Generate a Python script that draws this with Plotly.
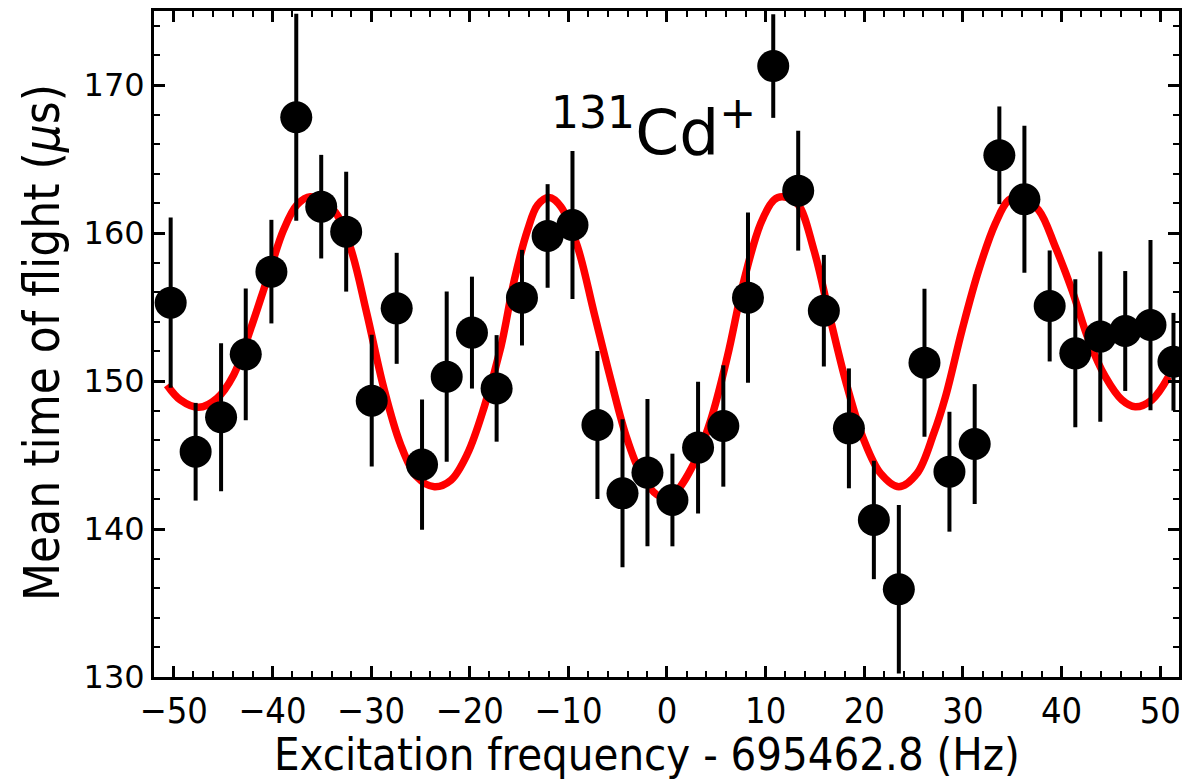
import plotly.graph_objects as go

# Measured mean time of flight versus excitation frequency offset
freq_offset_hz = [-50.31, -47.78, -45.20, -42.70, -40.10, -37.58, -35.05, -32.52, -29.93, -27.40,
                  -24.83, -22.33, -19.77, -17.27, -14.70, -12.10, -9.58, -7.05, -4.51, -1.98,
                  0.55, 3.15, 5.71, 8.21, 10.77, 13.30, 15.90, 18.44, 20.97, 23.50,
                  26.10, 28.63, 31.19, 33.69, 36.23, 38.79, 41.39, 43.92, 46.45, 49.01, 51.34]
mean_tof_us = [155.29, 145.22, 147.55, 151.80, 157.39, 167.82, 161.78, 160.09, 148.67, 154.91,
               144.35, 150.29, 153.27, 149.50, 155.63, 159.80, 160.54, 147.03, 142.41, 143.81,
               141.96, 145.50, 146.96, 155.63, 171.28, 162.86, 154.75, 146.80, 140.61, 135.93,
               151.24, 143.87, 145.74, 165.25, 162.28, 155.07, 151.87, 153.00, 153.38, 153.78, 151.30]
tof_err_us = [5.75, 3.30, 5.00, 4.45, 3.50, 7.00, 3.50, 4.05, 4.45, 3.75,
              4.40, 5.75, 3.78, 3.60, 3.23, 3.50, 5.00, 5.00, 5.00, 4.98,
              3.13, 4.45, 4.10, 5.75, 3.50, 4.05, 3.77, 4.05, 4.00, 5.70,
              5.00, 4.05, 4.05, 3.30, 4.97, 3.75, 5.00, 5.75, 4.05, 5.75, 3.30]

# Fitted Ramsey resonance curve (sampled)
fit_x = [-50.68, -49.33, -47.47, -45.62, -43.93, -42.24, -40.56, -38.87, -37.52, -36.17,
         -33.80, -32.12, -30.43, -28.74, -27.05, -25.37, -23.58, -21.89, -20.21, -18.52,
         -16.83, -15.48, -14.13, -13.12, -11.94, -10.75, -9.07, -7.38, -5.69, -4.01,
         -2.32, -0.63, 0.72, 2.74, 4.43, 6.12, 7.81, 9.50, 10.84, 11.68,
         13.20, 14.89, 16.58, 18.27, 19.96, 21.65, 23.50, 25.35, 27.04, 28.23,
         29.91, 31.60, 33.29, 34.64, 35.82, 37.67, 39.36, 41.05, 42.74, 44.43,
         46.11, 47.46, 49.15, 50.84]
fit_y = [149.73, 148.72, 148.22, 148.83, 150.41, 153.45, 156.82, 160.20, 161.89, 162.45,
         161.55, 159.07, 154.57, 149.61, 145.79, 143.53, 142.86, 143.31, 145.11, 148.26,
         152.32, 156.82, 160.20, 161.89, 162.40, 161.78, 159.07, 154.57, 150.07, 146.01,
         143.31, 142.18, 142.41, 144.44, 147.36, 151.64, 156.82, 160.65, 162.23, 162.45,
         162.00, 158.85, 154.12, 149.61, 146.01, 143.76, 142.86, 143.76, 146.46, 148.94,
         153.45, 157.50, 160.65, 162.23, 162.45, 161.55, 159.07, 156.15, 152.77, 150.29,
         148.72, 148.26, 148.72, 150.29]

x_ticks = [-50, -40, -30, -20, -10, 0, 10, 20, 30, 40, 50]
y_ticks = [130, 140, 150, 160, 170]

cond_font = "DejaVu Sans Condensed, Liberation Sans Narrow, DejaVu Sans, sans-serif"
norm_font = "DejaVu Sans, Verdana, sans-serif"

fig = go.Figure()

fig.add_trace(go.Scatter(
    x=fit_x, y=fit_y, mode="lines",
    line=dict(color="#ff0000", width=7.5, shape="spline", smoothing=1.0),
    hoverinfo="skip", showlegend=False,
))

fig.add_trace(go.Scatter(
    x=freq_offset_hz, y=mean_tof_us, mode="markers",
    marker=dict(color="black", size=32, line=dict(width=0)),
    error_y=dict(type="data", array=tof_err_us, visible=True,
                 color="black", thickness=4, width=0),
    showlegend=False,
))

# Isotope label
fig.add_annotation(
    x=-1.4, y=167.1, xref="x", yref="y",
    text="<sup>131</sup>Cd<sup>+</sup>",
    showarrow=False, xanchor="center", yanchor="middle",
    font=dict(family=norm_font, size=63, color="black"),
)

# Axis titles
fig.add_annotation(
    x=0.481, y=-0.1592, xref="paper", yref="paper",
    text="Excitation frequency - 695462.8 (Hz)",
    showarrow=False, xanchor="center", yanchor="bottom",
    font=dict(family=cond_font, size=45, color="black"),
)
fig.add_annotation(
    x=-0.1093, y=0.503, xref="paper", yref="paper",
    text="Mean time of flight (<i>μ</i>s)", textangle=-90,
    showarrow=False, xanchor="center", yanchor="middle",
    font=dict(family=cond_font, size=49, color="black"),
)

axis_common = dict(
    showline=True, linecolor="black", linewidth=3, mirror="allticks",
    ticks="inside", tickcolor="black", tickwidth=2.5, ticklen=11,
    showgrid=False, zeroline=False,
)

fig.update_xaxes(
    range=[-52.0, 51.9], tickmode="array", tickvals=x_ticks,
    minor=dict(dtick=2, ticks="inside", ticklen=6, tickwidth=2, tickcolor="black", showgrid=False),
    tickfont=dict(family=cond_font, size=36, color="black"),
    **axis_common,
)
fig.update_yaxes(
    range=[130, 175], tickmode="array", tickvals=y_ticks,
    minor=dict(dtick=2, ticks="inside", ticklen=6, tickwidth=2, tickcolor="black", showgrid=False),
    tickfont=dict(family=norm_font, size=32, color="black"),
    **axis_common,
)

fig.update_layout(
    width=1184, height=784,
    margin=dict(l=154, r=5, t=11, b=107, autoexpand=False),
    plot_bgcolor="white", paper_bgcolor="white",
)

fig.write_html("out.html")
